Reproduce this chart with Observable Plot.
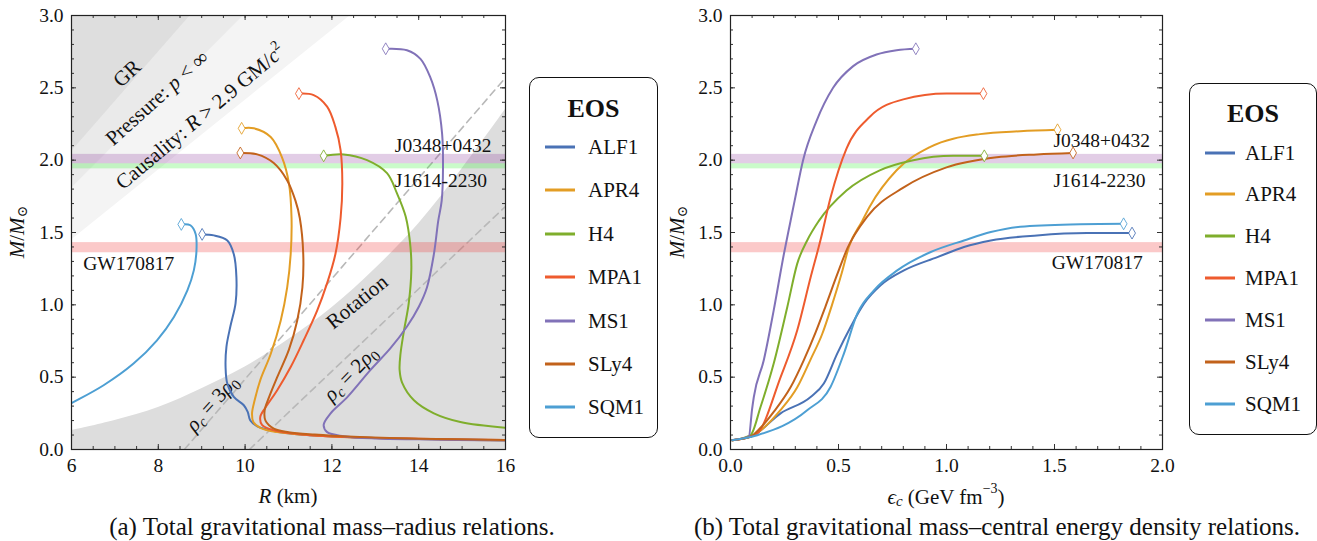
<!DOCTYPE html>
<html><head><meta charset="utf-8">
<script src="https://cdn.jsdelivr.net/npm/d3@7"></script>
<script src="https://cdn.jsdelivr.net/npm/@observablehq/plot@0.6"></script>
<style>
body{margin:0;background:#fff;}
#root{position:relative;width:1317px;height:541px;overflow:hidden;font-family:"Liberation Serif","DejaVu Serif",serif;color:#111;}
.panel{position:absolute;top:0;}
.legend{position:absolute;border:1.5px solid #111;border-radius:10px;box-sizing:border-box;background:#fff;}
.legend .title{position:absolute;left:0;width:100%;text-align:center;font-weight:bold;font-size:26px;line-height:26px;transform:translateY(-50%);}
.legend .entry{position:absolute;left:0;width:100%;height:0;}
.legend .swatch{position:absolute;width:30px;height:3px;transform:translateY(-50%);}
.legend .lab{position:absolute;font-size:21px;line-height:21px;transform:translateY(-50%);white-space:nowrap;}
.caption{position:absolute;font-size:25px;line-height:25px;white-space:nowrap;transform:translateX(-50%);}
</style></head>
<body><div id="root"></div>
<script>
const FONT = '"Liberation Serif","DejaVu Serif",serif';

// ---------- data ----------
const eosNames  = ["ALF1","APR4","H4","MPA1","MS1","SLy4","SQM1"];
const eosColors = ["#4a72b5","#e39d24","#7fae2c","#ee5b2e","#8172b8","#c2621b","#4d9fd3"];

// mass–radius curves: [R (km), M (Msun)], first point = maximum mass
const mrALF1 = [[9.01,1.487],[9.28,1.48],[9.59,1.445],[9.74,1.35],[9.80,1.19],[9.78,1.01],[9.66,0.85],[9.57,0.71],[9.55,0.57],[9.59,0.456],[9.74,0.363],[9.97,0.306],[10.06,0.26],[10.12,0.20],[10.28,0.16],[10.66,0.128],[11.2,0.105],[12,0.09],[13,0.08],[14,0.073],[16,0.064]];
const mrAPR4 = [[9.92,2.22],[10.20,2.22],[10.59,2.16],[10.85,2.02],[11.01,1.84],[11.07,1.60],[11.05,1.35],[10.97,1.12],[10.82,0.89],[10.59,0.66],[10.35,0.48],[10.22,0.34],[10.16,0.25],[10.19,0.19],[10.35,0.15],[10.74,0.12],[11.3,0.103],[12,0.09],[13,0.079],[14,0.072],[16,0.063]];
const mrH4   = [[11.81,2.03],[12.27,2.04],[12.81,2.0],[13.27,1.91],[13.50,1.77],[13.70,1.61],[13.81,1.40],[13.83,1.24],[13.77,1.01],[13.66,0.82],[13.58,0.66],[13.56,0.55],[13.62,0.46],[13.89,0.34],[14.35,0.25],[14.96,0.19],[16.0,0.15]];
const mrMPA1 = [[11.24,2.46],[11.58,2.45],[11.89,2.37],[12.08,2.23],[12.20,2.07],[12.24,1.84],[12.20,1.60],[12.08,1.35],[11.89,1.15],[11.66,0.96],[11.35,0.755],[11.05,0.57],[10.74,0.41],[10.47,0.29],[10.35,0.225],[10.39,0.17],[10.66,0.133],[11.51,0.099],[12.66,0.083],[14,0.074],[16,0.065]];
const mrMS1  = [[13.24,2.77],[13.73,2.76],[14.04,2.70],[14.27,2.57],[14.43,2.41],[14.54,2.18],[14.56,1.95],[14.53,1.72],[14.45,1.58],[14.35,1.35],[14.19,1.12],[14.0,0.985],[13.73,0.85],[13.35,0.70],[12.89,0.55],[12.35,0.36],[11.97,0.25],[11.81,0.17],[11.89,0.12],[12.27,0.092],[13.04,0.076],[14,0.07],[16,0.062]];
const mrSLy4 = [[9.89,2.05],[10.28,2.04],[10.66,1.98],[10.97,1.86],[11.16,1.72],[11.26,1.60],[11.34,1.35],[11.32,1.12],[11.20,0.89],[11.01,0.69],[10.74,0.50],[10.55,0.36],[10.45,0.27],[10.47,0.20],[10.66,0.145],[11,0.12],[11.6,0.103],[12.5,0.088],[14,0.075],[16,0.066]];
const mrSQM1 = [[8.53,1.556],[8.74,1.55],[8.86,1.49],[8.88,1.38],[8.82,1.24],[8.67,1.10],[8.36,0.916],[7.97,0.755],[7.43,0.594],[6.74,0.444],[6.0,0.32],[5.5,0.24]];

// mass–central energy density curves: [eps_c (GeV/fm^3), M], last point = maximum mass
const emALF1 = [[0.008,0.066],[0.093,0.087],[0.232,0.25],[0.371,0.363],[0.432,0.456],[0.494,0.663],[0.556,0.847],[0.618,1.008],[0.695,1.135],[0.803,1.238],[0.958,1.33],[1.081,1.40],[1.205,1.445],[1.419,1.48],[1.65,1.496],[1.859,1.496]];
const emAPR4 = [[0.008,0.064],[0.093,0.09],[0.154,0.15],[0.23,0.27],[0.309,0.43],[0.37,0.62],[0.425,0.80],[0.47,1.0],[0.515,1.22],[0.548,1.40],[0.61,1.58],[0.645,1.68],[0.769,1.93],[0.923,2.09],[1.155,2.18],[1.341,2.20],[1.514,2.21]];
const emH4   = [[0.008,0.064],[0.093,0.1],[0.139,0.294],[0.2,0.594],[0.263,0.985],[0.309,1.285],[0.355,1.445],[0.409,1.58],[0.537,1.79],[0.691,1.93],[0.846,2.00],[1.032,2.03],[1.175,2.03]];
const emMPA1 = [[0.008,0.064],[0.093,0.09],[0.124,0.11],[0.232,0.50],[0.309,0.824],[0.371,1.19],[0.417,1.45],[0.463,1.74],[0.537,2.08],[0.645,2.30],[0.80,2.42],[1.0,2.46],[1.171,2.46]];
const emMS1  = [[0.008,0.064],[0.085,0.09],[0.1,0.28],[0.108,0.363],[0.154,0.617],[0.2,0.962],[0.247,1.35],[0.278,1.58],[0.297,1.72],[0.336,2.0],[0.398,2.27],[0.475,2.50],[0.568,2.65],[0.676,2.73],[0.769,2.76],[0.858,2.77]];
const emSLy4 = [[0.008,0.064],[0.093,0.09],[0.139,0.15],[0.2,0.26],[0.278,0.43],[0.34,0.62],[0.394,0.81],[0.44,0.99],[0.494,1.21],[0.541,1.39],[0.633,1.61],[0.80,1.81],[1.0,1.95],[1.233,2.02],[1.419,2.04],[1.586,2.05]];
const emSQM1 = [[0.008,0.064],[0.124,0.099],[0.355,0.271],[0.463,0.432],[0.525,0.663],[0.587,0.939],[0.664,1.10],[0.772,1.238],[0.927,1.365],[1.081,1.445],[1.205,1.503],[1.341,1.54],[1.573,1.556],[1.82,1.56]];

// constraint regions in the M–R plane: [R, M]
const grEdge       = [[0,0],[8.74,3.0]];
const pressureEdge = [[0,0],[9.97,3.0]];
const causalEdge   = [[0,0],[12.43,3.0]];
const rotationEdge = [[6,0.13],[7,0.2],[8,0.29],[9,0.42],[10,0.57],[11,0.76],[12,0.98],[13,1.25],[14,1.56],[15,1.94],[16,2.35]];
const rho3Line = [[8.6,0],[16,2.57]];
const rho2Line = [[10.1,0],[16,1.68]];

// observed mass bands
const bandNames = ["J0348+0432","J1614-2230","GW170817"];
const bandLow   = [1.975, 1.94, 1.36];
const bandHigh  = [2.04, 1.975, 1.43];
const bandFill  = ["#8e3ea0","#33ee33","#f03030"];
const bandLabelMR = [[13.45,2.10],[13.45,1.86],[6.27,1.285]];
const bandLabelEM = [[1.495,2.135],[1.495,1.86],[1.487,1.29]];

// region labels in the M–R plane: [text, R, M, angle]
const regionLabels = [["GR",7.28,2.60,-43],["Pressure: p < ∞",7.97,2.43,-42],["Causality: R > 2.9 GM/c2",8.97,2.30,-40],["Rotation",12.58,1.02,-39],["ρc = 2ρ0",12.43,0.525,-46],["ρc = 3ρ0",9.24,0.32,-48]];

// ticks
const mrXMajor = [6,8,10,12,14,16];
const mrXMinor = d3.range(6,16.01,0.5);
const yMajor = [0,0.5,1.0,1.5,2.0,2.5,3.0];
const yMinor = d3.range(0,3.001,0.1);
const emXMajor = [0,0.5,1.0,1.5,2.0];
const emXMinor = d3.range(0,2.001,0.1);

// ---------- build ----------
const mrCurves = [mrALF1,mrAPR4,mrH4,mrMPA1,mrMS1,mrSLy4,mrSQM1];
const emCurves = [emALF1,emAPR4,emH4,emMPA1,emMS1,emSLy4,emSQM1];
const toRows = cs => cs.flatMap((pts,i)=>pts.map(([a,m],j)=>({eos:eosNames[i],a,m,j,last:j===pts.length-1})));
const mrRows = toRows(mrCurves), emRows = toRows(emCurves);
const pts = arr => arr.map(([r,m])=>({r,m}));
const bands = bandNames.map((n,i)=>({n,lo:bandLow[i],hi:bandHigh[i],fill:bandFill[i]}));

const W = 520, H = 515, MT = 15, MB = 66;
const IH = H - MT - MB;
const colorOpt = {domain: eosNames, range: eosColors};
const styleOpt = {fontFamily: FONT, fontSize: "19.5px", color: "#111", background: "transparent", overflow: "visible"};

function tickMarks(xMinor, xMajor, IW){
  const c = "#333";
  return [
    Plot.ruleX(xMinor, {x: d=>d, insetTop: IH-3, stroke: c}),
    Plot.ruleX(xMajor, {x: d=>d, insetTop: IH-5, stroke: c}),
    Plot.ruleX(xMinor, {x: d=>d, insetBottom: IH-3, stroke: c}),
    Plot.ruleX(xMajor, {x: d=>d, insetBottom: IH-5, stroke: c}),
    Plot.ruleY(yMinor, {y: d=>d, insetRight: IW-3, stroke: c}),
    Plot.ruleY(yMajor, {y: d=>d, insetRight: IW-5, stroke: c}),
    Plot.ruleY(yMinor, {y: d=>d, insetLeft: IW-3, stroke: c}),
    Plot.ruleY(yMajor, {y: d=>d, insetLeft: IW-5, stroke: c})
  ];
}

const ML1 = 71, MR1 = 15;
const p1 = Plot.plot({
  width: W, height: H, marginLeft: ML1, marginRight: MR1, marginTop: MT, marginBottom: MB,
  x: {domain: [6,16]}, y: {domain: [0,3]}, color: colorOpt, style: styleOpt,
  marks: [
    Plot.areaX(pts(causalEdge), {y: "m", x1: 0, x2: "r", fill: "#f4f4f4", clip: true}),
    Plot.areaX(pts(pressureEdge), {y: "m", x1: 0, x2: "r", fill: "#eaeaea", clip: true}),
    Plot.areaX(pts(grEdge), {y: "m", x1: 0, x2: "r", fill: "#dedede", clip: true}),
    Plot.areaY(pts(rotationEdge), {x: "r", y1: 0, y2: "m", fill: "#dddddd", curve: "catmull-rom", clip: true}),
    Plot.line(pts(rho3Line), {x: "r", y: "m", stroke: "#b8b8b8", strokeWidth: 1.6, strokeDasharray: "7,5", clip: true}),
    Plot.line(pts(rho2Line), {x: "r", y: "m", stroke: "#b8b8b8", strokeWidth: 1.6, strokeDasharray: "7,5", clip: true}),
    Plot.rect(bands, {x1: 6, x2: 16, y1: "lo", y2: "hi", fill: "fill", fillOpacity: 0.26}),
    Plot.text(regionLabels, {x: d=>d[1], y: d=>d[2], text: d=>d[0], rotate: d=>d[3], fontSize: 21, fill: "#111"}),
    Plot.line(mrRows, {x: "a", y: "m", z: "eos", stroke: "eos", strokeWidth: 2, curve: "catmull-rom", clip: true}),
    Plot.dot(mrRows.filter(d=>d.j===0), {x: "a", y: "m", stroke: "eos", fill: "white", symbol: "diamond", r: 3.6, strokeWidth: 1, strokeOpacity: 0.85}),
    Plot.text(bandNames, {x: (d,i)=>bandLabelMR[i][0], y: (d,i)=>bandLabelMR[i][1], text: d=>d, textAnchor: "start", fontSize: 19.5, fill: "#111"}),
    ...tickMarks(mrXMinor, mrXMajor, W-ML1-MR1),
    Plot.frame({stroke: "#222", strokeWidth: 1.2}),
    Plot.axisX({ticks: mrXMajor, tickSize: 0, tickPadding: 9, tickFormat: d3.format("d"), label: null}),
    Plot.axisY({ticks: yMajor, tickSize: 0, tickPadding: 8, tickFormat: d3.format(".1f"), label: null})
  ]
});

const ML2 = 70, MR2 = 18;
const p2 = Plot.plot({
  width: W, height: H, marginLeft: ML2, marginRight: MR2, marginTop: MT, marginBottom: MB,
  x: {domain: [0,2]}, y: {domain: [0,3]}, color: colorOpt, style: styleOpt,
  marks: [
    Plot.rect(bands, {x1: 0, x2: 2, y1: "lo", y2: "hi", fill: "fill", fillOpacity: 0.26}),
    Plot.line(emRows, {x: "a", y: "m", z: "eos", stroke: "eos", strokeWidth: 2, curve: "monotone-x", clip: true}),
    Plot.dot(emRows.filter(d=>d.last), {x: "a", y: "m", stroke: "eos", fill: "white", symbol: "diamond", r: 3.6, strokeWidth: 1, strokeOpacity: 0.85}),
    Plot.text(bandNames, {x: (d,i)=>bandLabelEM[i][0], y: (d,i)=>bandLabelEM[i][1], text: d=>d, textAnchor: "start", fontSize: 19.5, fill: "#111"}),
    ...tickMarks(emXMinor, emXMajor, W-ML2-MR2),
    Plot.frame({stroke: "#222", strokeWidth: 1.2}),
    Plot.axisX({ticks: emXMajor, tickSize: 0, tickPadding: 9, tickFormat: d3.format(".1f"), label: null}),
    Plot.axisY({ticks: yMajor, tickSize: 0, tickPadding: 8, tickFormat: d3.format(".1f"), label: null})
  ]
});

// rich text for region labels
const I = s => `<tspan font-style="italic">${s}</tspan>`;
const rich = {
  "Pressure: p < ∞": `Pressure: ${I("p")} &lt; ∞`,
  "Causality: R > 2.9 GM/c2": `Causality: ${I("R")} &gt; 2.9 GM/${I("c")}<tspan font-size="14" dy="-9">2</tspan>`,
  "ρc = 2ρ0": `${I("ρ")}<tspan font-style="italic" font-size="15" dy="4">c</tspan><tspan dy="-4"> = 2</tspan>${I("ρ")}<tspan font-size="15" dy="4">0</tspan>`,
  "ρc = 3ρ0": `${I("ρ")}<tspan font-style="italic" font-size="15" dy="4">c</tspan><tspan dy="-4"> = 3</tspan>${I("ρ")}<tspan font-size="15" dy="4">0</tspan>`
};
d3.select(p1).selectAll("text").each(function(){
  const t = this.textContent;
  if (rich[t] && this.children.length === 0) this.innerHTML = rich[t];
});

function addLabel(svg, x, y, html, rot){
  d3.select(svg).append("text")
    .attr("transform", `translate(${x},${y})` + (rot ? ` rotate(${rot})` : ""))
    .attr("text-anchor", "middle").attr("dominant-baseline", "middle")
    .attr("font-family", FONT).attr("font-size", 21).attr("fill", "#111")
    .html(html);
}
const yLab = `${I("M")}/${I("M")}<tspan font-size="14" dy="5">⊙</tspan>`;
addLabel(p1, 19, 232, yLab, -90);
addLabel(p1, 288, 498, `${I("R")} (km)`);
addLabel(p2, 19, 232, yLab, -90);
addLabel(p2, 286, 499, `${I("ϵ")}<tspan font-style="italic" font-size="15" dy="4">c</tspan><tspan dy="-4"> (GeV fm</tspan><tspan font-size="14" dy="-9">−3</tspan><tspan dy="9">)</tspan>`);

const root = document.getElementById("root");
const d1 = document.createElement("div"); d1.className = "panel"; d1.style.left = "0px"; d1.appendChild(p1); root.appendChild(d1);
const d2 = document.createElement("div"); d2.className = "panel"; d2.style.left = "660px"; d2.appendChild(p2); root.appendChild(d2);

function legend(left, top, width, height, titleY, firstY, step, swX, labX){
  const box = document.createElement("div");
  box.className = "legend";
  Object.assign(box.style, {left: left+"px", top: top+"px", width: width+"px", height: height+"px"});
  const t = document.createElement("div"); t.className = "title"; t.textContent = "EOS"; t.style.top = titleY+"px";
  box.appendChild(t);
  eosNames.forEach((n,i)=>{
    const e = document.createElement("div"); e.className = "entry"; e.style.top = (firstY + i*step) + "px";
    const s = document.createElement("div"); s.className = "swatch"; s.style.left = swX+"px"; s.style.background = eosColors[i];
    const l = document.createElement("div"); l.className = "lab"; l.style.left = labX+"px"; l.textContent = n;
    e.appendChild(s); e.appendChild(l); box.appendChild(e);
  });
  root.appendChild(box);
}
legend(529, 77, 129, 361, 31, 69, 43.4, 15, 58);
legend(1189, 83, 128, 352, 30, 68.5, 41.9, 15, 55);

const caps = [["(a) Total gravitational mass–radius relations.", 332], ["(b) Total gravitational mass–central energy density relations.", 997]];
caps.forEach(([txt, cx])=>{
  const c = document.createElement("div"); c.className = "caption"; c.textContent = txt;
  c.style.left = cx+"px"; c.style.top = "514px"; root.appendChild(c);
});
</script></body></html>
